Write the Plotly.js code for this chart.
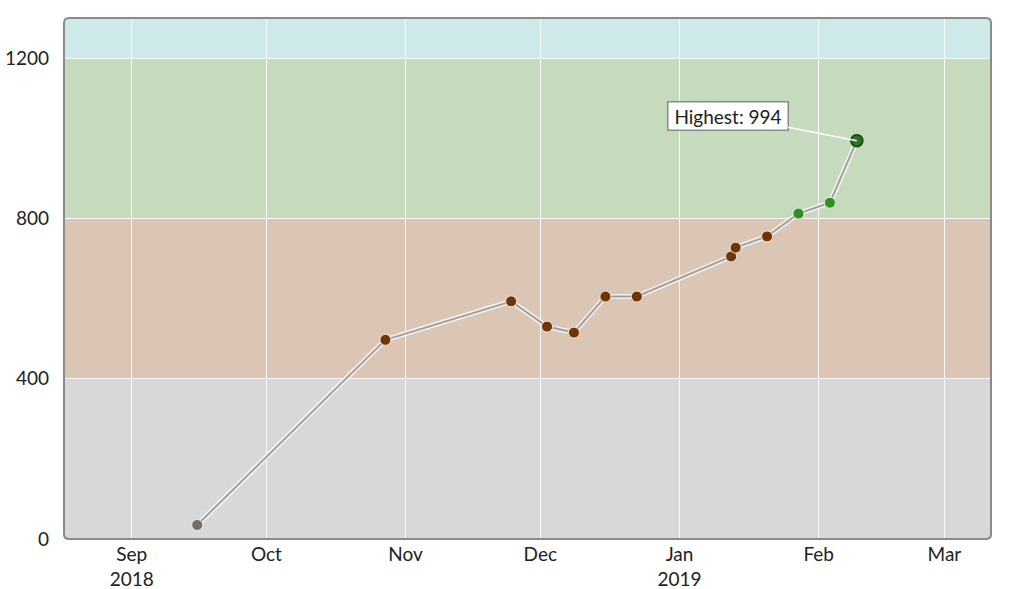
<!DOCTYPE html>
<html><head><meta charset="utf-8">
<script src="https://cdn.plot.ly/plotly-3.0.1.min.js"></script>
<style>html,body{margin:0;padding:0;background:#fff}#c{width:1024px;height:589px}</style>
</head><body><div id="c"></div>
<script>
const dates = ["2018-09-15 14:00","2018-10-27 12:00","2018-11-24 12:00","2018-12-02 12:00","2018-12-08 12:00","2018-12-15 12:00","2018-12-22 12:00","2019-01-12 12:00","2019-01-13 12:00","2019-01-20 12:00","2019-01-27 12:00","2019-02-03 12:00","2019-02-09 12:00"];
const values = [35,497,593,530,515,605,605,705,727,755,812,839,994];
const tickDates = ["2018-09-01","2018-10-01","2018-11-01","2018-12-01","2019-01-01","2019-02-01","2019-03-01"];
const tickLabels = ["Sep<br>2018","Oct","Nov","Dec","Jan<br>2019","Feb","Mar"];
const bandEdges = [0,400,800,1200,1300];
const bandColors = ["#d8d8d8","#dbc6b6","#c6dabd","#cde9ea"];
const yTicks = [0,400,800,1200];

const maxV = Math.max(...values);
const maxI = values.indexOf(maxV);
function col(v){ return v<400?"#6e6e6e":(v<800?"#6f3508":"#2f8f28"); }
const mColors = values.map((v,i)=> i===maxI ? "#2a7420" : col(v));
const mSizes = values.map((v,i)=> i===maxI ? 12 : 11);
const mLine = values.map((v,i)=> i===maxI ? "#1b3f15" : "#f3e6d4");
const mLineW = values.map((v,i)=> i===maxI ? 1.5 : 1);

const shapes = [];
for(let i=0;i<bandColors.length;i++){
  shapes.push({type:"rect",xref:"paper",yref:"y",x0:0,x1:1,y0:bandEdges[i],y1:bandEdges[i+1],fillcolor:bandColors[i],line:{width:0},layer:"below"});
}
const W=927,H=521,r=5, rx=r/W, ry=r/H;
shapes.push({type:"path",xref:"paper",yref:"paper",layer:"above",fillcolor:"rgba(0,0,0,0)",opacity:1,
  path:`M ${rx} 0 L ${1-rx} 0 Q 1 0 1 ${ry} L 1 ${1-ry} Q 1 1 ${1-rx} 1 L ${rx} 1 Q 0 1 0 ${1-ry} L 0 ${ry} Q 0 0 ${rx} 0 Z`,
  line:{color:"#8a8a8a",width:2}});

const traces = [
  {x:dates,y:values,mode:"lines",line:{color:"rgba(255,255,255,0.75)",width:5},hoverinfo:"skip",showlegend:false},
  {x:dates,y:values,mode:"lines+markers",line:{color:"#a0a0a0",width:2},
   marker:{color:mColors,size:mSizes,opacity:1,line:{color:mLine,width:mLineW}},showlegend:false}
];

const layout = {
  width:1024,height:589,
  margin:{l:64,r:33,t:18,b:50},
  paper_bgcolor:"#fff",plot_bgcolor:"rgba(0,0,0,0)",
  font:{family:"Lato, 'Open Sans', sans-serif",size:19,color:"#222"},
  xaxis:{type:"date",range:["2018-08-16 22:00","2019-03-11 09:00"],tickvals:tickDates,ticktext:tickLabels,
    showgrid:true,gridcolor:"rgba(255,255,255,0.85)",gridwidth:1,zeroline:false,showline:false,ticks:"",
    ticklabelstandoff:2,tickfont:{size:19,color:"#222"}},
  yaxis:{range:[0,1300],tickvals:yTicks,showgrid:true,gridcolor:"rgba(255,255,255,0.85)",gridwidth:1,
    zeroline:false,showline:false,ticks:"",ticklabelstandoff:14,tickfont:{size:19,color:"#222"}},
  shapes:shapes,
  annotations:[{x:dates[maxI],y:maxV,xref:"x",yref:"y",text:"Highest: "+maxV,showarrow:true,arrowhead:0,
    arrowcolor:"#ffffff",arrowwidth:1.5,ax:-129,ay:-25,bgcolor:"#ffffff",bordercolor:"#8a8a8a",borderwidth:1.5,
    borderpad:2,width:115,height:23,font:{size:19,color:"#222"}}]
};
Plotly.newPlot("c",traces,layout,{displayModeBar:false,staticPlot:true});
</script></body></html>
